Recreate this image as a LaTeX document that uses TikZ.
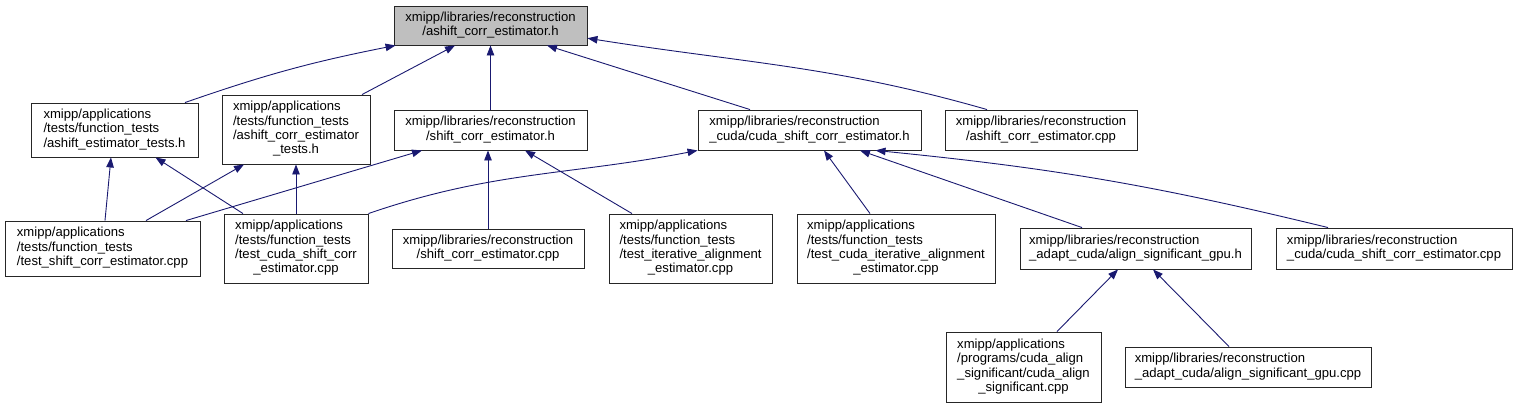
\documentclass[tikz,border=0pt]{standalone}
\usepackage{fontspec}
\setmainfont{Liberation Sans}
\usetikzlibrary{arrows.meta}
\definecolor{edgec}{HTML}{191970}
\definecolor{rootfill}{HTML}{BFBFBF}
\newcommand{\ctrline}[1]{\multicolumn{1}{@{}c@{}}{#1}}
\newcommand{\boxtext}[1]{\begin{tabular}{@{}l@{}}#1\end{tabular}}
\tikzset{
  nbox/.style={draw=black!85, line width=0.9pt, fill=white, inner sep=0pt,
    font={\fontsize{13.1}{14.4}\selectfont}, anchor=center},
  edge/.style={draw=edgec, line width=0.9pt, -{Triangle[length=10pt,width=7.5pt]}},
}
\begin{document}
\begin{tikzpicture}[x=1pt,y=-1pt]
\useasboundingbox (0,0) rectangle (1518,408);
\node[nbox, fill=rootfill, minimum width=193pt, minimum height=39pt] (root) at (490.5,25.5)
  {\boxtext{\ctrline{xmipp/libraries/reconstruction}\\ \ctrline{/ashift\_corr\_estimator.h}}};
\node[nbox, minimum width=167pt, minimum height=54pt] (A) at (114.5,130)
  {\boxtext{xmipp/applications\\ /tests/function\_tests\\ /ashift\_estimator\_tests.h}};
\node[nbox, minimum width=148pt, minimum height=69pt] (B) at (296,129.5)
  {\boxtext{xmipp/applications\\ /tests/function\_tests\\ /ashift\_corr\_estimator\\ \ctrline{\_tests.h}}};
\node[nbox, minimum width=193pt, minimum height=40pt] (C) at (490.5,130)
  {\boxtext{\ctrline{xmipp/libraries/reconstruction}\\ \ctrline{/shift\_corr\_estimator.h}}};
\node[nbox, minimum width=223pt, minimum height=40pt] (D) at (809.5,130)
  {\boxtext{xmipp/libraries/reconstruction\\ \_cuda/cuda\_shift\_corr\_estimator.h}};
\node[nbox, minimum width=192pt, minimum height=40pt] (E) at (1041,130)
  {\boxtext{\ctrline{xmipp/libraries/reconstruction}\\ \ctrline{/ashift\_corr\_estimator.cpp}}};
\node[nbox, minimum width=195pt, minimum height=55pt] (F) at (102.5,248.5)
  {\boxtext{xmipp/applications\\ /tests/function\_tests\\ /test\_shift\_corr\_estimator.cpp}};
\node[nbox, minimum width=144pt, minimum height=69pt] (G) at (296,248.5)
  {\boxtext{xmipp/applications\\ /tests/function\_tests\\ /test\_cuda\_shift\_corr\\ \ctrline{\_estimator.cpp}}};
\node[nbox, minimum width=192pt, minimum height=39pt] (H) at (488,248.5)
  {\boxtext{\ctrline{xmipp/libraries/reconstruction}\\ \ctrline{/shift\_corr\_estimator.cpp}}};
\node[nbox, minimum width=163pt, minimum height=69pt] (I) at (690.5,248.5)
  {\boxtext{xmipp/applications\\ /tests/function\_tests\\ /test\_iterative\_alignment\\ \ctrline{\_estimator.cpp}}};
\node[nbox, minimum width=198pt, minimum height=69pt] (J) at (896,248.5)
  {\boxtext{xmipp/applications\\ /tests/function\_tests\\ /test\_cuda\_iterative\_alignment\\ \ctrline{\_estimator.cpp}}};
\node[nbox, minimum width=231pt, minimum height=41pt] (K) at (1135.5,248.5)
  {\boxtext{xmipp/libraries/reconstruction\\ \_adapt\_cuda/align\_significant\_gpu.h}};
\node[nbox, minimum width=236pt, minimum height=41pt] (L) at (1394,248.5)
  {\boxtext{xmipp/libraries/reconstruction\\ \_cuda/cuda\_shift\_corr\_estimator.cpp}};
\node[nbox, minimum width=155pt, minimum height=70pt] (M) at (1023.5,367)
  {\boxtext{xmipp/applications\\ /programs/cuda\_align\\ \_significant/cuda\_align\\ \ctrline{\_significant.cpp}}};
\node[nbox, minimum width=246pt, minimum height=40pt] (N) at (1248,367)
  {\boxtext{xmipp/libraries/reconstruction\\ \_adapt\_cuda/align\_significant\_gpu.cpp}};
% edges
\draw[edge] ([xshift=70.5pt]A.north) to[bend left=4] ([xshift=2pt]root.south west);
\draw[edge] ([xshift=66pt]B.north) -- ([xshift=-35.5pt]root.south);
\draw[edge] (C.north) -- (root.south);
\draw[edge] ([xshift=-59.5pt]D.north) -- ([xshift=56.5pt]root.south);
\draw[edge] ([xshift=-54pt]E.north) to[out=164,in=-9] ([yshift=-12.7pt]root.east);
\draw[edge] ([xshift=2.5pt]F.north) -- ([xshift=-3.5pt]A.south);
\draw[edge] ([xshift=-53pt]G.north) -- ([xshift=41pt]A.south);
\draw[edge] ([xshift=43.5pt]F.north) -- ([xshift=-52pt]B.south);
\draw[edge] (G.north) -- (B.south);
\draw[edge] ([xshift=83.5pt]F.north) -- ([xshift=-68.5pt]C.south);
\draw[edge] (G.north east) to[out=19,in=191] (D.south west);
\draw[edge] (H.north) -- (H.north |- C.south);
\draw[edge] ([xshift=-58.5pt]I.north) -- ([xshift=34.5pt]C.south);
\draw[edge] ([xshift=-26pt]J.north) -- ([xshift=14.5pt]D.south);
\draw[edge] ([xshift=-53.5pt]K.north) -- ([xshift=50.5pt]D.south);
\draw[edge] ([xshift=-66pt]L.north) to[bend right=4] ([xshift=66pt]D.south);
\draw[edge] ([xshift=33.5pt]M.north) -- ([xshift=-17.5pt]K.south);
\draw[edge] ([xshift=-19pt]N.north) -- ([xshift=17.5pt]K.south);
\end{tikzpicture}
\end{document}
